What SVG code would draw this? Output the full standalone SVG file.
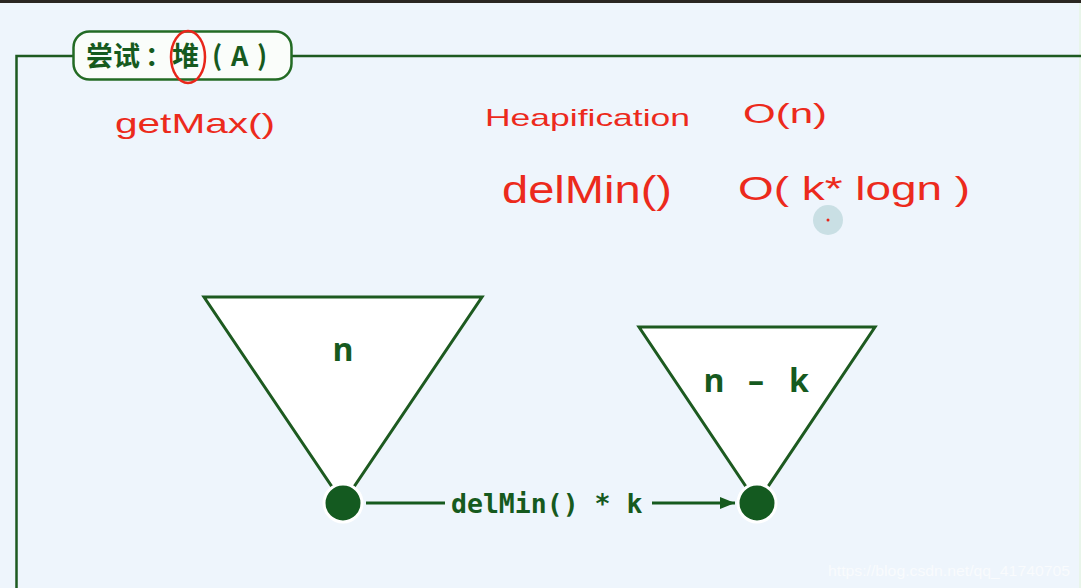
<svg xmlns="http://www.w3.org/2000/svg" width="1081" height="588" viewBox="0 0 1081 588">
  <defs>
    <marker id="arr" viewBox="0 0 10 10" refX="10" refY="5" markerWidth="5" markerHeight="5" orient="auto" markerUnits="strokeWidth">
      <path d="M0,1 L10,5 L0,9 Z" fill="#165a1e"/>
    </marker>
  </defs>
  <style>
    .frame { fill: none; stroke: #1d5a20; stroke-width: 2.5; }
    .tri { fill: #ffffff; stroke: #1d5a20; stroke-width: 3; stroke-linejoin: miter; }
    .dot { fill: #145a20; stroke: #ffffff; stroke-width: 3; }
    .lbl { font-family: "Open Sans", "DejaVu Sans", sans-serif; font-weight: bold; fill: #165a1e; }
    .hand { font-family: "Liberation Sans", "DejaVu Sans", sans-serif; fill: #ec2a1c; }
    .mono { font-family: "DejaVu Sans Mono", "Liberation Mono", monospace; font-weight: bold; fill: #165a1e; }
    .conn { stroke: #165a1e; stroke-width: 3; fill: none; }
  </style>
  <rect x="0" y="0" width="1081" height="588" fill="#eef5fc"/>
  <rect x="0" y="0" width="1081" height="3" fill="#2a2622"/>
  <rect x="1079" y="3" width="2" height="585" fill="#e8f5ea"/>

  <g id="frame">
    <path class="frame" d="M16.5,588 L16.5,56 L1081,56"/>
  </g>

  <g id="title">
    <rect x="73.5" y="31.5" width="218" height="48" rx="16" ry="16" fill="#fafdfa" stroke="#236b24" stroke-width="2.5"/>
    <text class="lbl" y="66" font-size="27" style="font-family:'Noto Sans CJK SC','Open Sans',sans-serif"><tspan x="86">尝试</tspan><tspan x="145">：</tspan><tspan x="172">堆</tspan><tspan x="212">(</tspan><tspan x="231">A</tspan><tspan x="257">)</tspan></text>
    <ellipse cx="188" cy="57" rx="17" ry="26" fill="none" stroke="#e8261a" stroke-width="2.5"/>
  </g>

  <g id="notes">
    <text class="hand" x="115" y="133" font-size="28" textLength="160" lengthAdjust="spacingAndGlyphs">getMax()</text>
    <text class="hand" x="485" y="126" font-size="24" textLength="205" lengthAdjust="spacingAndGlyphs">Heapification</text>
    <text class="hand" x="743" y="123" font-size="27" textLength="84" lengthAdjust="spacingAndGlyphs">O(n)</text>
    <text class="hand" x="502" y="203" font-size="38" textLength="170" lengthAdjust="spacingAndGlyphs">delMin()</text>
    <text class="hand" x="738" y="200" font-size="34" textLength="232" lengthAdjust="spacingAndGlyphs">O( k* logn )</text>
  </g>

  <g id="cursor">
    <circle cx="828" cy="220" r="15" fill="#c9dfe4"/>
    <circle cx="828" cy="220" r="1.5" fill="#e8261a"/>
  </g>

  <g id="heap-n">
    <path class="tri" d="M204,297 L482,297 L343,503 Z"/>
    <circle class="dot" cx="343" cy="503" r="19"/>
    <text class="lbl" x="343" y="361" font-size="32" text-anchor="middle">n</text>
  </g>

  <g id="heap-nk">
    <path class="tri" d="M639,327 L875,327 L757,503 Z"/>
    <circle class="dot" cx="757" cy="503" r="19"/>
    <text class="lbl" y="392" font-size="32" text-anchor="middle"><tspan x="714">n</tspan><tspan x="756">–</tspan><tspan x="799">k</tspan></text>
  </g>

  <g id="connectors">
    <line class="conn" x1="366" y1="503" x2="445" y2="503"/>
    <line class="conn" x1="652" y1="503" x2="735" y2="503" marker-end="url(#arr)"/>
    <text class="mono" x="451" y="513" font-size="26.5">delMin() * k</text>
  </g>

  <text x="828" y="576" font-family="Liberation Sans, Arial, sans-serif" font-size="15" fill="#f9fbfd" textLength="242" lengthAdjust="spacingAndGlyphs">https://blog.csdn.net/qq_41740705</text>
</svg>
